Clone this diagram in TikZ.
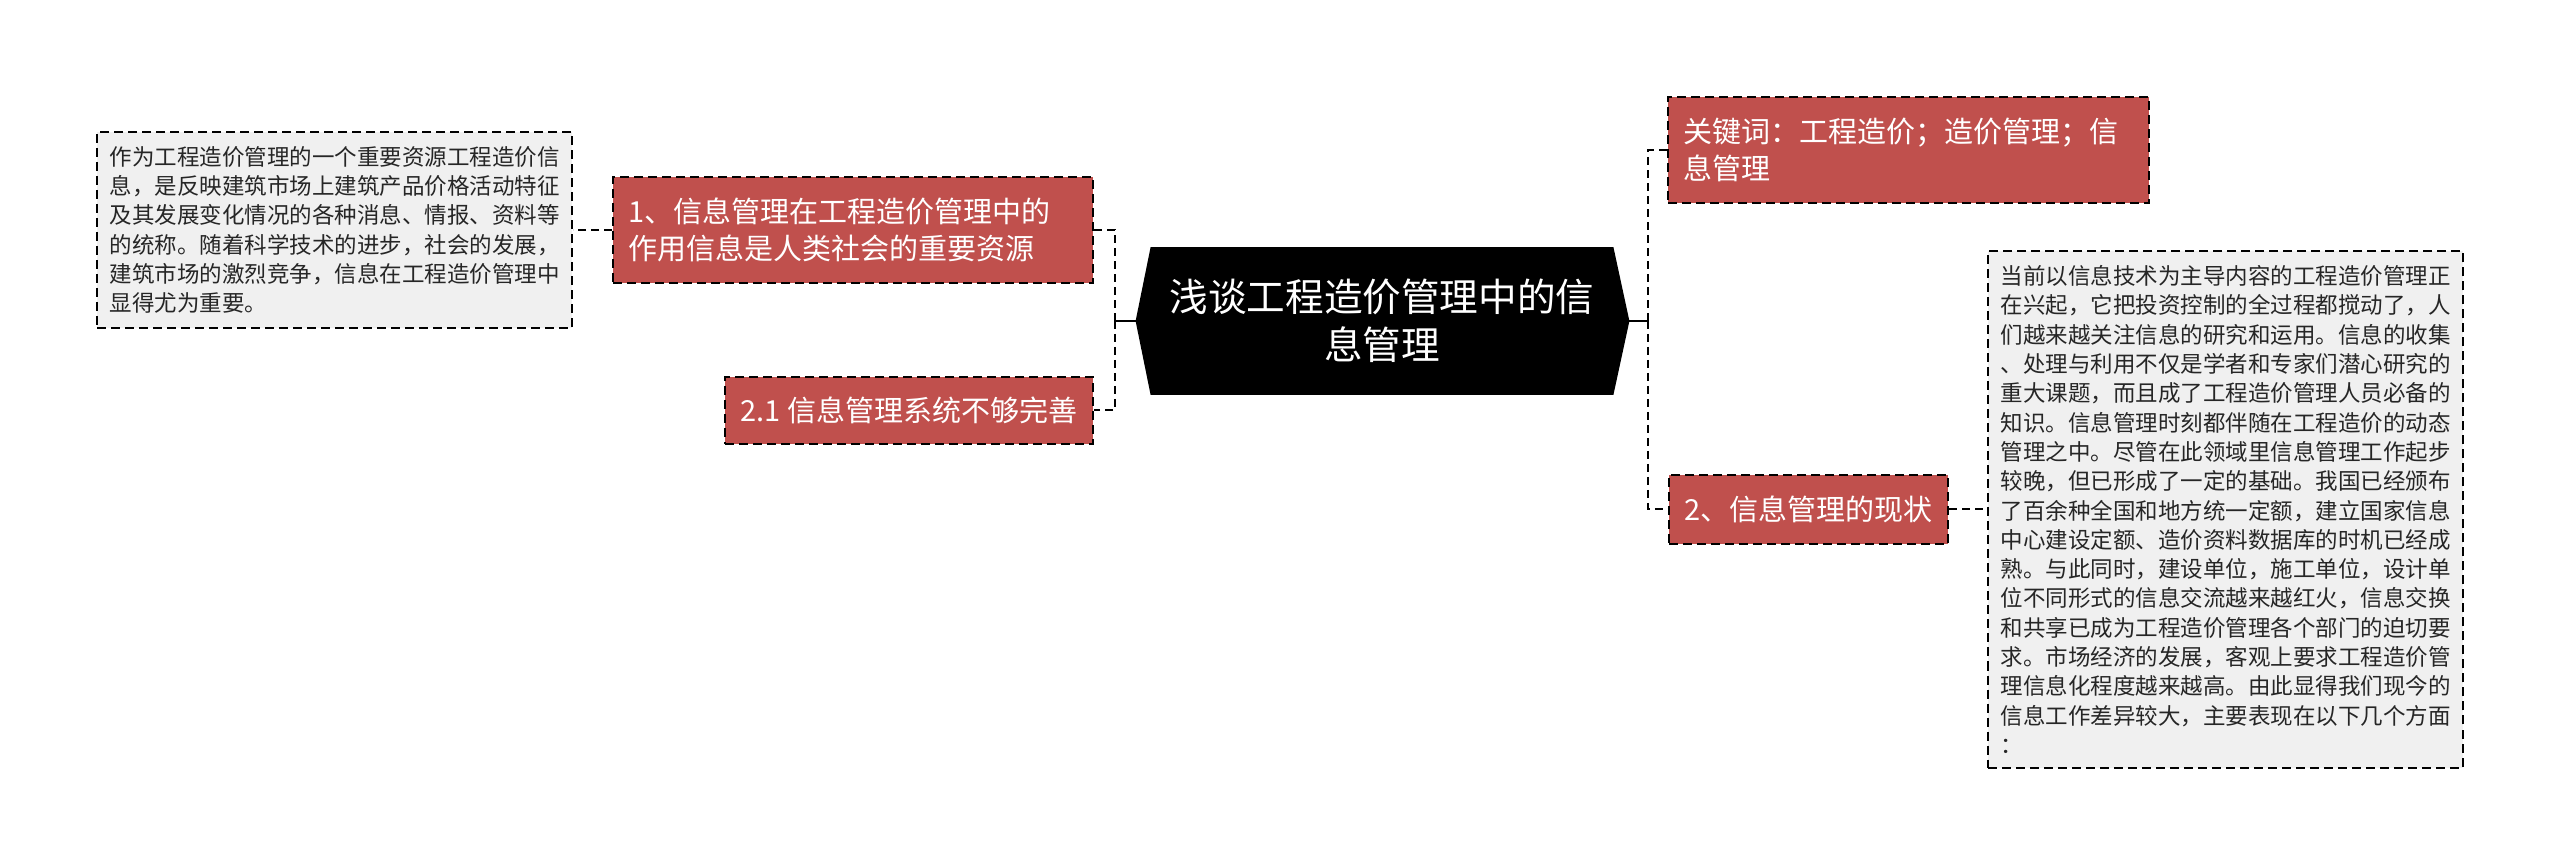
\documentclass[tikz,border=0pt]{standalone}
\usepackage{fontspec}
\newfontfamily\cjk{Noto Sans CJK SC}
\usepackage{tikz}
\usetikzlibrary{positioning, backgrounds}
\definecolor{topicred}{RGB}{192,80,77}
\definecolor{leafgray}{RGB}{240,240,240}

\begin{document}
\begin{tikzpicture}[
    x=0.5pt, y=-0.5pt,
    dashbox/.style={draw=black, line width=1pt, dash pattern=on 4.5pt off 2.5pt, inner ysep=0pt, minimum height=#1},
    topic/.style={dashbox=#1, fill=topicred, text=white, align=left, inner xsep=7.5pt, font=\cjk\fontsize{14.5pt}{18.35pt}\selectfont},
    leaf/.style={dashbox=#1, fill=leafgray, text=black!85, align=left, inner xsep=5.5pt, font=\cjk\fontsize{11.25pt}{14.65pt}\selectfont},
    link/.style={draw=black, line width=1pt, dash pattern=on 4pt off 2.5pt},
    stub/.style={draw=black, line width=1pt}
]
    \useasboundingbox (0,0) rectangle (2560,865);

    % Central topic
    \node[text=white, minimum width=231pt, minimum height=73.5pt, align=center, font=\cjk\fontsize{19.3pt}{24pt}\selectfont] (title) at (1382,321) {浅谈工程造价管理中的信\\息管理};
    \coordinate (tipL) at ([xshift=-7.5pt]title.west);
    \coordinate (tipR) at ([xshift=8pt]title.east);
    \begin{scope}[on background layer]
        \fill[black] (title.north west) -- (title.north east) -- (tipR) -- (title.south east) -- (title.south west) -- (tipL) -- cycle;
    \end{scope}
    \coordinate (busL) at ([xshift=-10.5pt]tipL);
    \coordinate (busR) at ([xshift=9.5pt]tipR);

    % Left branch
    \node[topic=53pt, minimum width=240pt, text width=225pt] (n1) at (853,230) {1、信息管理在工程造价管理中的\\作用信息是人类社会的重要资源};
    \node[topic=33.5pt, minimum width=184pt] (n21) at (909,410.5) {2.1 信息管理系统不够完善};
    \node[leaf=98pt, minimum width=237.5pt] (leafL) at (334.5,230) {作为工程造价管理的一个重要资源工程造价信\\息，是反映建筑市场上建筑产品价格活动特征\\及其发展变化情况的各种消息、情报、资料等\\的统称。随着科学技术的进步，社会的发展，\\建筑市场的激烈竞争，信息在工程造价管理中\\显得尤为重要。};

    % Right branch
    \node[topic=53pt, minimum width=240.5pt, text width=225.5pt] (kw) at (1908.5,150) {关键词：工程造价；造价管理；信\\息管理};
    \node[topic=34.5pt, minimum width=139.5pt] (n2) at (1808.5,509.5) {2、信息管理的现状};
    \node[leaf=258pt, minimum width=237.5pt] (leafR) at (2225.5,509.5) {当前以信息技术为主导内容的工程造价管理正\\在兴起，它把投资控制的全过程都搅动了，人\\们越来越关注信息的研究和运用。信息的收集\\、处理与利用不仅是学者和专家们潜心研究的\\重大课题，而且成了工程造价管理人员必备的\\知识。信息管理时刻都伴随在工程造价的动态\\管理之中。尽管在此领域里信息管理工作起步\\较晚，但已形成了一定的基础。我国已经颁布\\了百余种全国和地方统一定额，建立国家信息\\中心建设定额、造价资料数据库的时机已经成\\熟。与此同时，建设单位，施工单位，设计单\\位不同形式的信息交流越来越红火，信息交换\\和共享已成为工程造价管理各个部门的迫切要\\求。市场经济的发展，客观上要求工程造价管\\理信息化程度越来越高。由此显得我们现今的\\信息工作差异较大，主要表现在以下几个方面\\：};

    % Connectors
    \draw[stub] (tipL) -- (busL);
    \draw[link] (busL) |- (n1.east);
    \draw[link] (busL) |- (n21.east);
    \draw[link] (n1.west) -- (leafL.east);
    \draw[stub] (tipR) -- (busR);
    \draw[link] (busR) |- (kw.west);
    \draw[link] (busR) |- (n2.west);
    \draw[link] (n2.east) -- (leafR.west);

\end{tikzpicture}
\end{document}
